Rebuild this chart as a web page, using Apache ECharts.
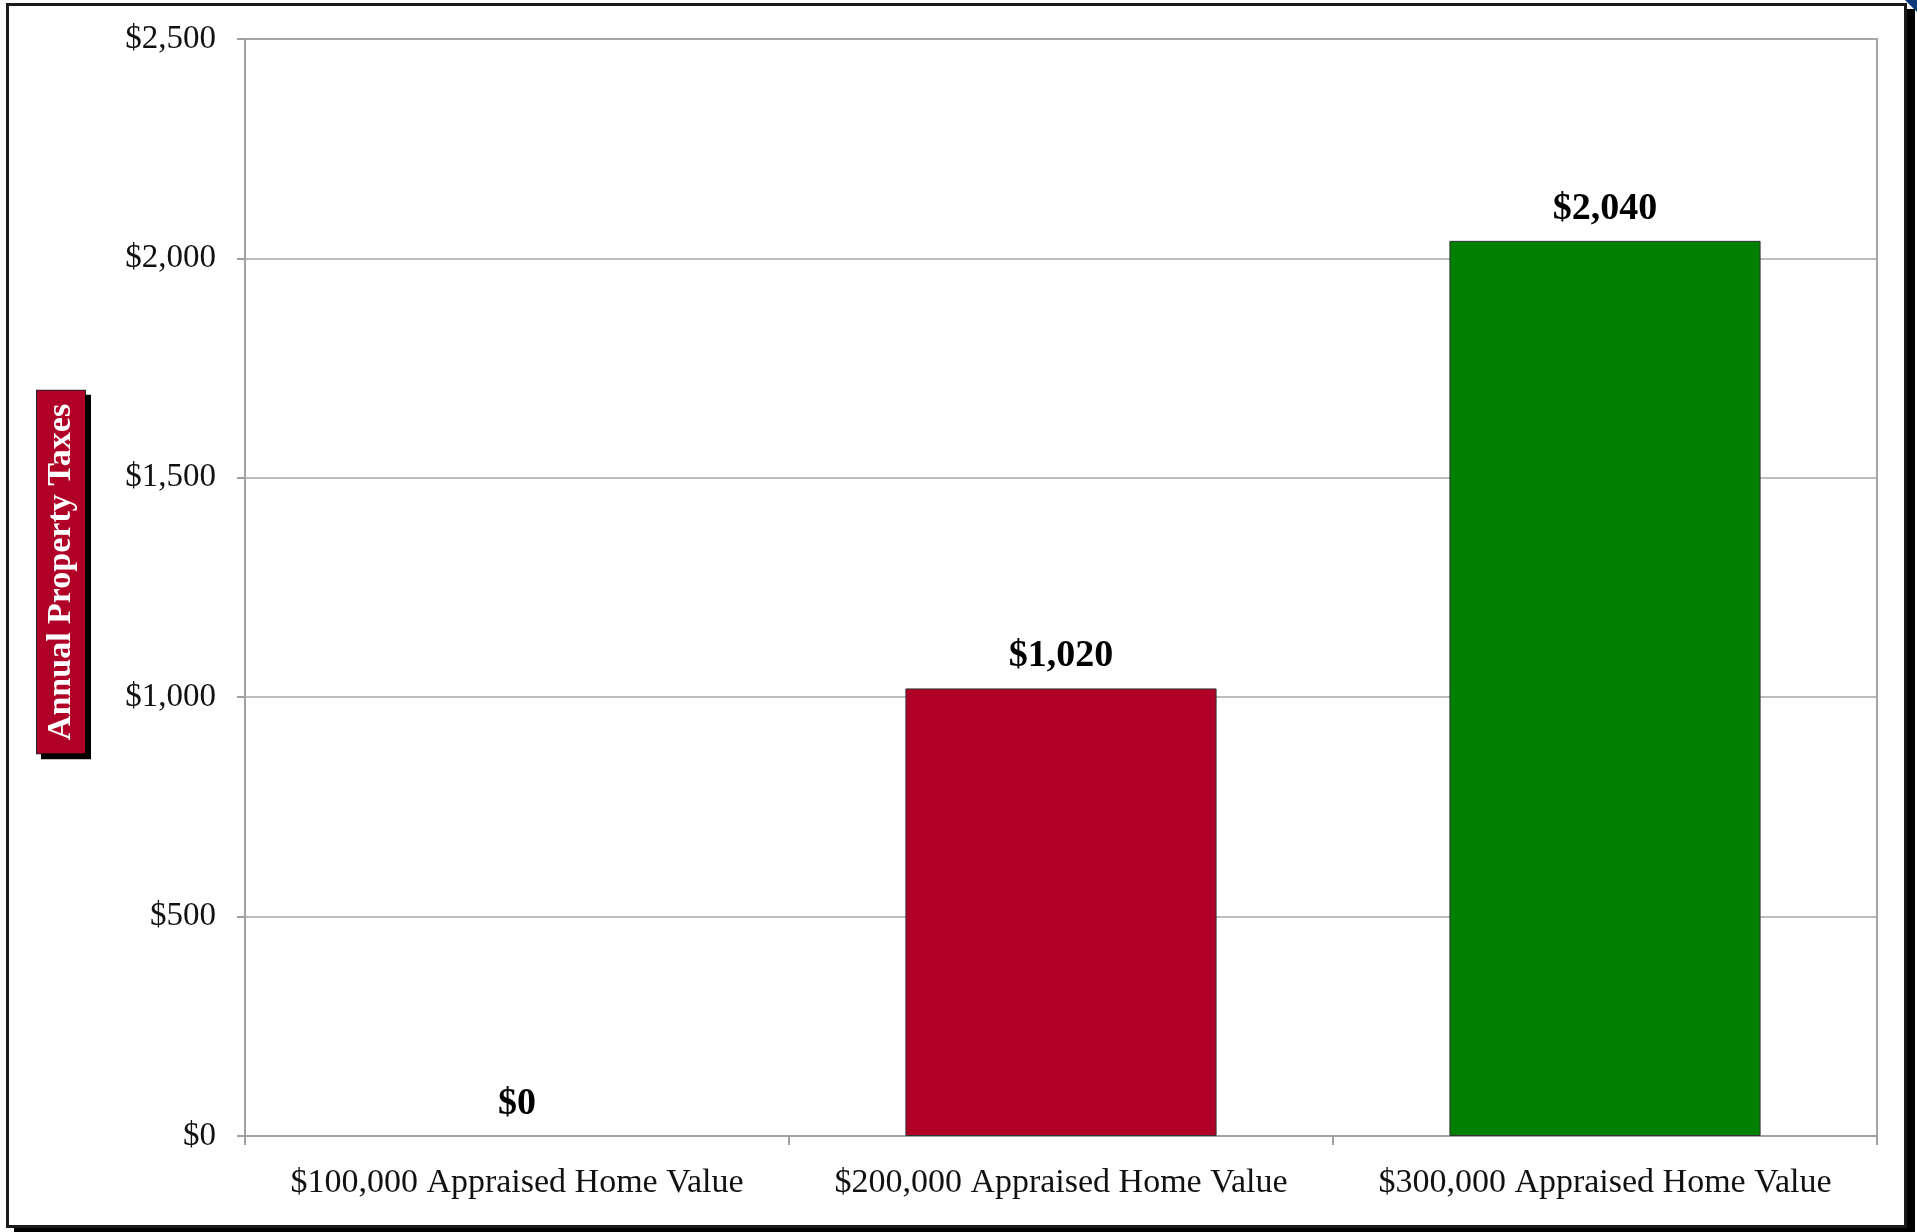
<!DOCTYPE html>
<html>
<head>
<meta charset="utf-8">
<script src="https://cdn.jsdelivr.net/npm/echarts@6/dist/echarts.min.js"></script>
<style>
  html, body { margin: 0; padding: 0; background: #fff; width: 1917px; height: 1232px; overflow: hidden; }
  #frame { position: absolute; left: 6px; top: 3px; width: 1895px; height: 1219px; border: 3px solid #1a1a1a; box-shadow: 8px 6px 0 0 #000; background: #fff; }
  #corner { position: absolute; right: 0; top: 0; width: 0; height: 0; border-top: 12px solid #0d3a78; border-left: 12px solid transparent; }
  #chart { position: absolute; left: 0; top: 0; width: 1917px; height: 1232px; }
</style>
</head>
<body>
<div id="frame"></div>
<div id="corner"></div>
<div id="chart"></div>
<script>
const categories = ['$100,000 Appraised Home Value', '$200,000 Appraised Home Value', '$300,000 Appraised Home Value'];
const taxValues = [0, 1020, 2040];
const barColors = ['#b00028', '#b00028', '#008000'];
const yTicks = { min: 0, max: 2500, interval: 500 };
const yTitle = 'Annual Property Taxes';

const money = v => '$' + Number(v).toLocaleString('en-US');
const serif = '"Liberation Serif", "Times New Roman", serif';

const chart = echarts.init(document.getElementById('chart'), null, { renderer: 'canvas' });
chart.setOption({
  backgroundColor: 'transparent',
  animation: false,
  grid: { left: 245, right: 40, top: 39, bottom: 96, show: true, borderColor: '#a6a6a6', borderWidth: 2, backgroundColor: 'transparent' },
  graphic: [{
    type: 'text',
    x: 61, y: 572,
    rotation: Math.PI / 2,
    silent: true,
    style: {
      text: yTitle,
      fill: '#fff',
      font: 'bold 34px "Liberation Serif", "Times New Roman", serif',
      align: 'center', verticalAlign: 'middle',
      backgroundColor: '#b00028', borderColor: '#222', borderWidth: 1,
      padding: [7, 13, 7, 13],
      shadowColor: '#000', shadowOffsetX: 5, shadowOffsetY: 5, shadowBlur: 0
    }
  }],
  xAxis: {
    type: 'category',
    data: categories,
    axisLine: { lineStyle: { color: '#a0a0a0', width: 2 } },
    axisTick: { show: true, length: 9, interval: 0, lineStyle: { color: '#a0a0a0', width: 2 } },
    axisLabel: { color: '#111', fontFamily: serif, fontSize: 34, margin: 30, interval: 0 },
    splitLine: { show: false }
  },
  yAxis: {
    type: 'value',
    min: yTicks.min, max: yTicks.max, interval: yTicks.interval,
    axisLine: { show: true, lineStyle: { color: '#a0a0a0', width: 2 } },
    axisTick: { show: true, length: 8, lineStyle: { color: '#a0a0a0', width: 2 } },
    axisLabel: { color: '#111', fontFamily: serif, fontSize: 33, margin: 29, formatter: money },
    splitLine: { show: true, lineStyle: { color: '#a6a6a6', width: 1.5 } }
  },
  series: [{
    type: 'bar',
    data: taxValues.map((v, i) => ({ value: v, itemStyle: { color: barColors[i], borderWidth: v === 0 ? 0 : 1 } })),
    barWidth: '57.2%',
    itemStyle: { borderColor: '#333', borderWidth: 1 },
    label: {
      show: true, position: 'top', distance: 13,
      color: '#000', fontFamily: serif, fontSize: 38, fontWeight: 'bold',
      formatter: p => money(p.value)
    }
  }]
});
</script>
</body>
</html>
